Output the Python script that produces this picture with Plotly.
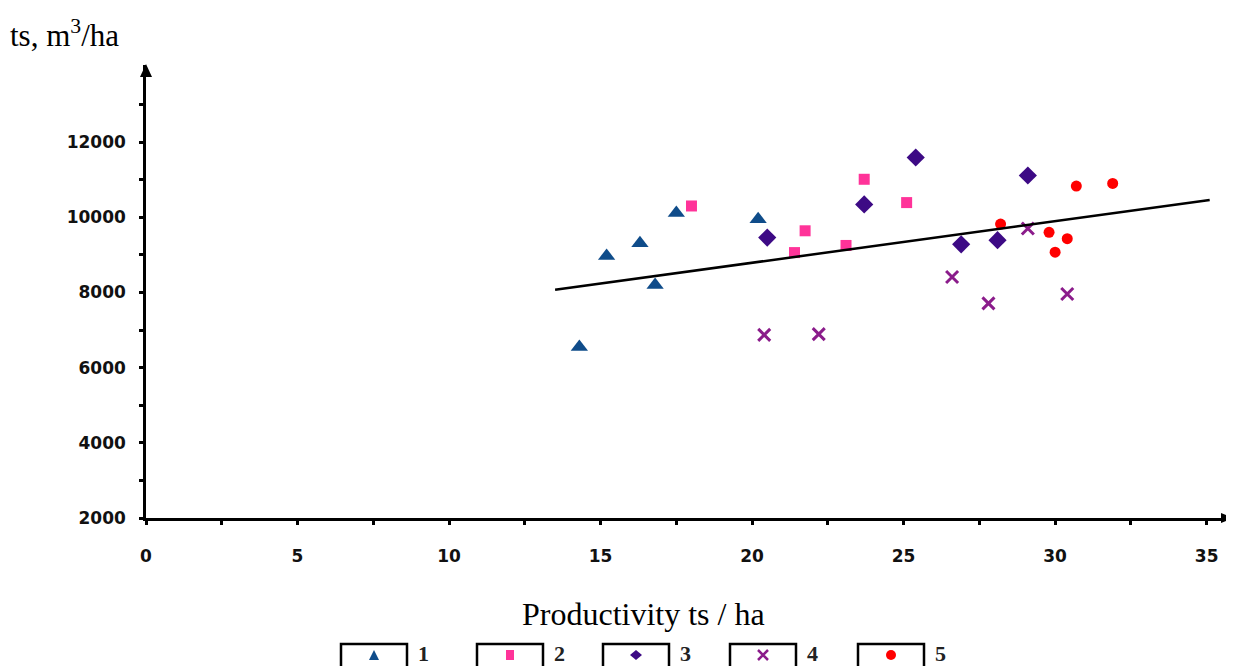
import plotly.graph_objects as go

# ---- data ----
s1_x = [14.3, 15.2, 16.3, 16.8, 17.5, 20.2]
s1_y = [6550, 8970, 9310, 8200, 10110, 9950]
s2_x = [18.0, 21.4, 21.75, 23.1, 23.7, 25.1]
s2_y = [10300, 9060, 9640, 9250, 11010, 10390]
s3_x = [20.5, 23.7, 25.4, 26.9, 28.1, 29.1]
s3_y = [9460, 10340, 11590, 9280, 9390, 11110]
s4_x = [20.4, 22.2, 26.6, 27.8, 29.1, 30.4]
s4_y = [6870, 6890, 8410, 7710, 9700, 7960]
s5_x = [28.2, 29.8, 30.0, 30.4, 30.7, 31.9]
s5_y = [9820, 9600, 9070, 9430, 10830, 10900]
trend_x = [13.5, 35.1]
trend_y = [8070, 10460]

series_names = ["1", "2", "3", "4", "5"]
x_tick_vals = [0, 2.5, 5, 7.5, 10, 12.5, 15, 17.5, 20, 22.5, 25, 27.5, 30, 32.5, 35]
x_tick_text = ["0", "", "5", "", "10", "", "15", "", "20", "", "25", "", "30", "", "35"]
y_tick_vals = [2000, 3000, 4000, 5000, 6000, 7000, 8000, 9000, 10000, 11000, 12000, 13000]
y_tick_text = ["2000", "", "4000", "", "6000", "", "8000", "", "10000", "", "12000", ""]

X_MAX = 35.87
Y_MIN, Y_MAX = 2000, 14050

# ---- geometry (figure pixels; page body adds an 8px offset) ----
OFF = 8
W, H = 1234, 666
L, R, T, B = 138, 9, 57, 156
PW = W - L - R
PH = H - T - B

def px(xw):
    return (xw - OFF - L) / PW

def py(yw):
    return (H - B - (yw - OFF)) / PH

styles = [
    dict(symbol="triangle-up", size=15, color="#0F4C8A"),
    dict(symbol="square", size=11, color="#FF3399"),
    dict(symbol="diamond", size=14, color="#3D0A85"),
    dict(symbol="x-thin", size=12, color="#8B1C8B"),
    dict(symbol="circle", size=11, color="#FF0000"),
]
xs = [s1_x, s2_x, s3_x, s4_x, s5_x]
ys = [s1_y, s2_y, s3_y, s4_y, s5_y]

def marker(st):
    mk = dict(symbol=st["symbol"], size=st["size"], color=st["color"])
    if st["symbol"] == "x-thin":
        mk["line"] = dict(color=st["color"], width=3)
    else:
        mk["line"] = dict(width=0)
    return mk

fig = go.Figure()
for name, sx, sy, st in zip(series_names, xs, ys, styles):
    fig.add_trace(go.Scatter(x=sx, y=sy, mode="markers", name=name, marker=marker(st),
                             showlegend=False, cliponaxis=False))

fig.add_trace(go.Scatter(x=trend_x, y=trend_y, mode="lines",
                         line=dict(color="black", width=2.5), showlegend=False))

def path(points, close=True):
    s = "M " + " L ".join(f"{px(a):.5f},{py(b):.5f}" for a, b in points)
    return s + (" Z" if close else "")

# ---- custom legend (boxes + symbol shapes + numbers), window pixel positions ----
box_left = [341, 477, 603, 730, 858]
box_w = 66
cy = 655
for i, st in enumerate(styles):
    x0 = box_left[i]
    cx = x0 + box_w / 2
    fig.add_shape(type="rect", xref="paper", yref="paper",
                  x0=px(x0), x1=px(x0 + box_w), y0=py(644), y1=py(676),
                  line=dict(color="black", width=2.5), fillcolor="white", layer="above")
    sym = st["symbol"]
    col = st["color"]
    if sym == "triangle-up":
        fig.add_shape(type="path", xref="paper", yref="paper",
                      path=path([(cx - 5, cy + 5), (cx + 5, cy + 5), (cx, cy - 5)]),
                      fillcolor=col, line=dict(width=0), layer="above")
    elif sym == "square":
        fig.add_shape(type="rect", xref="paper", yref="paper",
                      x0=px(cx - 4), x1=px(cx + 4), y0=py(cy + 5), y1=py(cy - 5),
                      fillcolor=col, line=dict(width=0), layer="above")
    elif sym == "diamond":
        fig.add_shape(type="path", xref="paper", yref="paper",
                      path=path([(cx - 6, cy), (cx, cy - 5), (cx + 6, cy), (cx, cy + 5)]),
                      fillcolor=col, line=dict(width=0), layer="above")
    elif sym == "x-thin":
        fig.add_shape(type="path", xref="paper", yref="paper",
                      path=path([(cx - 5, cy - 5), (cx + 5, cy + 5)], close=False) + " " +
                           path([(cx - 5, cy + 5), (cx + 5, cy - 5)], close=False),
                      line=dict(color=col, width=2.5), layer="above")
    else:
        fig.add_shape(type="circle", xref="paper", yref="paper",
                      x0=px(cx - 5), x1=px(cx + 5), y0=py(cy + 5), y1=py(cy - 5),
                      fillcolor=col, line=dict(width=0), layer="above")
    fig.add_annotation(xref="paper", yref="paper", x=px(x0 + box_w + 9), y=py(653),
                       xanchor="left", yanchor="middle", showarrow=False,
                       text="<b>" + series_names[i] + "</b>",
                       font=dict(family="Liberation Serif", size=22, color="#222222"))

# ---- axis arrowheads (window pixels) ----
fig.add_shape(type="path", xref="paper", yref="paper",
              path=path([(1221, 513), (1233, 518), (1221, 523)]),
              fillcolor="black", line=dict(width=0), layer="above")
fig.add_shape(type="path", xref="paper", yref="paper",
              path=path([(140, 77), (146, 64), (152, 77)]),
              fillcolor="black", line=dict(width=0), layer="above")

tick_font = dict(family="DejaVu Sans", size=17, color="#111111", weight="bold")

fig.update_layout(
    width=W, height=H,
    margin=dict(l=L, r=R, t=T, b=B),
    paper_bgcolor="white", plot_bgcolor="white",
    showlegend=False,
    xaxis=dict(range=[0, X_MAX], showgrid=False, zeroline=False,
               showline=True, linecolor="black", linewidth=2.5,
               tickmode="array", tickvals=x_tick_vals, ticktext=x_tick_text,
               ticks="outside", ticklen=4, tickwidth=3, tickcolor="black",
               tickfont=tick_font, ticklabelstandoff=17),
    yaxis=dict(range=[Y_MIN, Y_MAX], showgrid=False, zeroline=False,
               showline=True, linecolor="black", linewidth=2.5,
               tickmode="array", tickvals=y_tick_vals, ticktext=y_tick_text,
               ticks="outside", ticklen=4, tickwidth=3, tickcolor="black",
               tickfont=tick_font, ticklabelstandoff=10),
)

# axis titles
fig.add_annotation(xref="paper", yref="paper", x=px(643), y=py(614),
                   xanchor="center", yanchor="middle", showarrow=False,
                   text="Productivity ts / ha",
                   font=dict(family="Liberation Serif", size=32, color="black"))
fig.add_annotation(xref="paper", yref="paper", x=px(8), y=py(33),
                   xanchor="left", yanchor="middle", showarrow=False,
                   text="ts, m<sup>3</sup>/ha",
                   font=dict(family="Liberation Serif", size=31, color="black"))

fig.write_html("out.html")
